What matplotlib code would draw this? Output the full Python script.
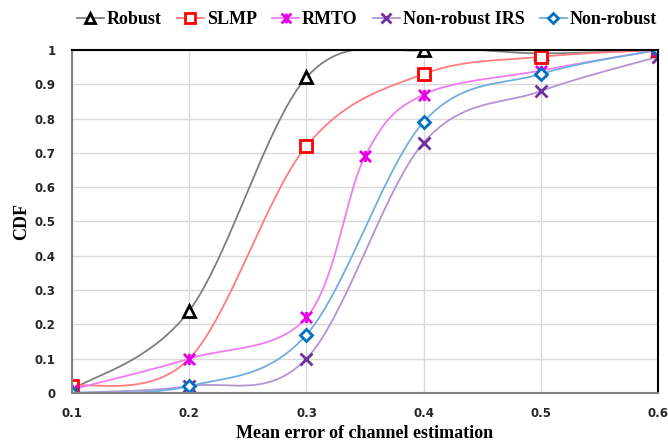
import numpy as np
import matplotlib.pyplot as plt
from matplotlib.path import Path

# Data (CDF vs mean channel estimation error)
x_main = [0.1, 0.2, 0.3, 0.4, 0.5, 0.6]
robust = [0.01, 0.24, 0.92, 1.0, 0.99, 1.0]
slmp = [0.02, 0.10, 0.72, 0.93, 0.98, 1.0]
x_rmto = [0.1, 0.2, 0.3, 0.35, 0.4, 0.5, 0.6]
rmto = [0.01, 0.10, 0.22, 0.69, 0.87, 0.94, 1.0]
nonrobust_irs = [0.0, 0.02, 0.10, 0.73, 0.88, 0.98]
nonrobust = [0.0, 0.02, 0.17, 0.79, 0.93, 1.0]


def smooth(xs, ys, n=40):
    # Excel-style smoothed line (parametric Catmull-Rom through the points)
    p = np.column_stack([xs, ys])
    p = np.vstack([p[0], p, p[-1]])
    out = []
    t = np.linspace(0, 1, n)[:, None]
    for i in range(1, len(p) - 2):
        p0, p1, p2, p3 = p[i - 1], p[i], p[i + 1], p[i + 2]
        c1 = p1 + (p2 - p0) / 6
        c2 = p2 - (p3 - p1) / 6
        seg = ((1 - t) ** 3) * p1 + 3 * ((1 - t) ** 2) * t * c1 + 3 * (1 - t) * t ** 2 * c2 + t ** 3 * p2
        out.append(seg)
    out = np.vstack(out)
    return out[:, 0], out[:, 1]


# star marker like Excel's (X with a vertical bar)
star = Path([(-1, -1), (1, 1), (-1, 1), (1, -1), (0, -1), (0, 1)],
            [Path.MOVETO, Path.LINETO, Path.MOVETO, Path.LINETO, Path.MOVETO, Path.LINETO])

# label, x, y, line colour, marker colour, marker, size, which points get markers
series = [
    ('Robust', x_main, robust, '#7F7F7F', 'black', '^', 8, None),
    ('SLMP', x_main, slmp, '#FF7C80', '#FF0000', 's', 8, [0, 2, 3, 4, 5]),
    ('RMTO', x_rmto, rmto, '#F07CF5', '#E600E6', star, 8, None),
    ('Non-robust IRS', x_main, nonrobust_irs, '#B394D6', '#7030A0', 'x', 8, None),
    ('Non-robust', x_main, nonrobust, '#6FAEE0', '#0070C0', 'D', 6, None),
]

fig = plt.figure(figsize=(6.68, 4.42), dpi=100)
ax = fig.add_axes([0.108, 0.111, 0.877, 0.776])

for label, xs, ys, lc, mc, mk, ms, every in series:
    face = 'white' if mk in ('^', 's', 'D') else mc
    sx, sy = smooth(xs, ys)
    ax.plot(sx, sy, color=lc, lw=1.3, zorder=2)
    ax.plot(xs, ys, linestyle='none', marker=mk, markersize=ms, markeredgecolor=mc,
            markerfacecolor=face, markeredgewidth=2, markevery=every, zorder=3)
    # legend proxy
    ax.plot([], [], color=lc, lw=1.3, marker=mk, markersize=ms - 1, markeredgecolor=mc,
            markerfacecolor=face, markeredgewidth=2, label=label)

ax.set_xlim(0.1, 0.6)
ax.set_ylim(0, 1)
ax.set_xticks(x_main)
ax.set_xticklabels(['0.1', '0.2', '0.3', '0.4', '0.5', '0.6'])
ax.set_yticks(np.arange(0, 1.01, 0.1))
ax.set_yticklabels(['0', '0.1', '0.2', '0.3', '0.4', '0.5', '0.6', '0.7', '0.8', '0.9', '1'])
ax.grid(True, color='#D9D9D9', lw=1)
ax.set_axisbelow(True)

for lab in ax.get_xticklabels() + ax.get_yticklabels():
    lab.set_fontweight('bold')
    lab.set_fontsize(8.5)
    lab.set_color('#262626')
ax.tick_params(axis='both', length=0, pad=10)
ax.tick_params(axis='y', pad=12)

ax.spines['left'].set_color('#808080')
ax.spines['bottom'].set_color('#808080')
ax.spines['top'].set_color('black')
ax.spines['right'].set_color('black')
for s in ax.spines.values():
    s.set_linewidth(1.5)
    s.set_zorder(4)

ax.set_xlabel('Mean error of channel estimation', family='Liberation Serif',
              fontweight='bold', fontsize=13, labelpad=4)
ax.set_ylabel('CDF', family='Liberation Serif', fontweight='bold', fontsize=13, labelpad=3)

fig.legend(loc='upper center', bbox_to_anchor=(0.549, 1.012), ncol=5, frameon=False,
           prop={'family': 'Liberation Serif', 'weight': 'bold', 'size': 13},
           handlelength=1.5, handletextpad=0.15, columnspacing=0.85)

fig.savefig('out.png', dpi=100)
